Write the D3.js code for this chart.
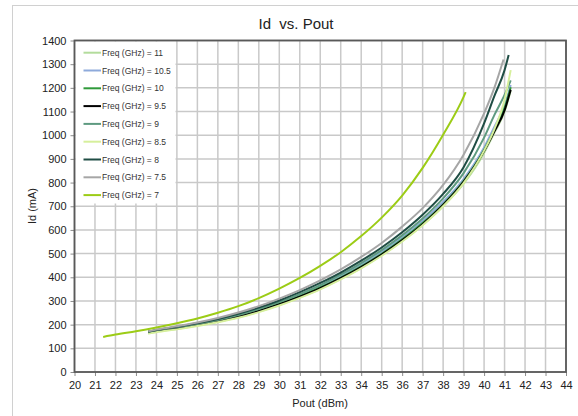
<!DOCTYPE html>
<html><head><meta charset="utf-8">
<script src="https://cdn.jsdelivr.net/npm/d3@7"></script>
<style>
html,body{margin:0;padding:0;background:#fff;}
svg{display:block;font-family:"Liberation Sans",Arial,sans-serif;}
</style></head>
<body><svg id="c" width="578" height="416"></svg>
<script>
const title = "Id  vs. Pout";
const xLabel = "Pout (dBm)";
const yLabel = "Id (mA)";
const xTicks = d3.range(20, 45, 1);
const yTicks = d3.range(0, 1500, 100);
const seriesNames = ["Freq (GHz) = 11","Freq (GHz) = 10.5","Freq (GHz) = 10","Freq (GHz) = 9.5","Freq (GHz) = 9","Freq (GHz) = 8.5","Freq (GHz) = 8","Freq (GHz) = 7.5","Freq (GHz) = 7"];
const seriesColors = ["#b3dc9c","#8eaadb","#2f9a3a","#000000","#5e9a80","#d6ef9c","#1f4d44","#a6a6a6","#9ccc16"];
// Pout values (dBm) and Id values (mA) per series
const poutMain = [23.6,24,25,26,27,28,29,30,31,32,33,34,35,36,37,38,39,40,40.5,41,41.3];
const id11   = [164,170,182,196,212,231,255,283,315,351,393,440,493,553,621,700,795,925,1010,1100,1188];
const id10_5 = [168,174,188,202,219,239,263,292,325,362,405,453,507,568,638,718,815,948,1035,1125,1212];
const id10   = [168,173,186,200,216,236,260,288,320,357,399,446,499,560,629,708,806,938,1022,1115,1203];
const id9_5  = [170,174,186,199,215,234,258,286,318,354,396,443,496,556,624,705,803,933,1015,1105,1192];
const id9    = [170,176,189,203,220,241,266,295,329,367,411,460,515,577,648,733,840,990,1085,1170,1232];
const id8_5  = [162,168,180,194,210,229,253,281,313,349,391,438,491,551,620,700,798,935,1025,1150,1275];
const pout8  = [23.6,24,25,26,27,28,29,30,31,32,33,34,35,36,37,38,39,40,40.5,41,41.2];
const id8    = [170,177,191,206,224,246,272,302,337,376,420,470,526,590,664,752,865,1050,1165,1275,1339];
const pout7_5 = [23.6,24,25,26,27,28,29,30,31,32,33,34,35,36,37,38,39,40,40.5,40.95];
const id7_5  = [172,179,193,209,228,251,278,310,346,387,433,486,545,614,692,790,918,1092,1200,1320];
const pout7  = [21.4,22,23,24,25,26,27,28,29,30,31,32,33,34,35,36,37,38,39,39.1];
const id7    = [148,158,172,188,206,226,250,278,312,352,397,448,506,574,652,745,862,1002,1162,1182];

const seriesData = [
  [poutMain, id11],[poutMain, id10_5],[poutMain, id10],[poutMain, id9_5],
  [poutMain, id9],[poutMain, id8_5],[pout8, id8],[pout7_5, id7_5],[pout7, id7]
];

const svg = d3.select("#c");
const L = 74.5, R = 566, T = 40.5, B = 372;
const x = d3.scaleLinear().domain([20, 44]).range([L, R]);
const y = d3.scaleLinear().domain([0, 1400]).range([B, T]);

// outer frame
svg.append("line").attr("x1",12).attr("x2",578).attr("y1",5.5).attr("y2",5.5).attr("stroke","#d0d0d0").attr("stroke-width",1);
svg.append("line").attr("x1",12.5).attr("x2",12.5).attr("y1",5).attr("y2",416).attr("stroke","#d0d0d0").attr("stroke-width",1);

// gridlines
const g = svg.append("g");
g.selectAll(".vg").data(xTicks).join("line")
  .attr("x1",d=>x(d)).attr("x2",d=>x(d)).attr("y1",T).attr("y2",B)
  .attr("stroke","#c9c9c9").attr("stroke-width",1.5);
g.selectAll(".hg").data(yTicks).join("line")
  .attr("x1",L).attr("x2",R).attr("y1",d=>y(d)).attr("y2",d=>y(d))
  .attr("stroke","#c9c9c9").attr("stroke-width",1.5);

// axes
const xAxis = d3.axisBottom(x).tickValues(xTicks).tickSize(4).tickPadding(5).tickFormat(d3.format("d"));
const yAxis = d3.axisLeft(y).tickValues(yTicks).tickSize(4).tickPadding(4).tickFormat(d3.format("d"));
const gx = svg.append("g").attr("transform",`translate(0,${B})`).call(xAxis);
const gy = svg.append("g").attr("transform",`translate(${L},0)`).call(yAxis);
[gx,gy].forEach(a=>{
  a.select(".domain").remove();
  a.selectAll(".tick line").attr("stroke","#8c8c8c").attr("stroke-width",1);
  a.selectAll(".tick text").attr("fill","#222").style("font-size","11px").style("font-family","'Liberation Sans',Arial,sans-serif");
});

// legend background (covers grid)
const legX = 75.5, legY0 = 52.7, legDy = 17.8;
svg.append("rect").attr("x",L+1).attr("y",T+1).attr("width",100).attr("height",162).attr("fill","#fff");

// plot border
svg.append("rect").attr("x",L).attr("y",T).attr("width",R-L).attr("height",B-T)
  .attr("fill","none").attr("stroke","#595959").attr("stroke-width",1.8);

// series lines
const line = d3.line().x(d=>x(d[0])).y(d=>y(d[1])).curve(d3.curveMonotoneX);
seriesData.forEach((s,i)=>{
  const pts = s[0].map((p,j)=>[p, s[1][j]]);
  svg.append("path").datum(pts).attr("d",line).attr("fill","none")
    .attr("stroke",seriesColors[i]).attr("stroke-width",2);
});

// legend
const leg = svg.append("g");
seriesNames.forEach((n,i)=>{
  const yy = legY0 + i*legDy;
  leg.append("line").attr("x1",83.5).attr("x2",101).attr("y1",yy).attr("y2",yy)
    .attr("stroke",seriesColors[i]).attr("stroke-width",2);
  leg.append("text").attr("x",102).attr("y",yy+3).text(n)
    .attr("fill","#333").style("font-size","8.5px");
});

// titles
svg.append("text").attr("x",296).attr("y",28.5).attr("text-anchor","middle")
  .style("font-size","15px").style("white-space","pre").attr("fill","#222").text(title);
svg.append("text").attr("x",320).attr("y",407).attr("text-anchor","middle")
  .style("font-size","11px").attr("fill","#222").text(xLabel);
svg.append("text").attr("transform","translate(36,206) rotate(-90)").attr("text-anchor","middle")
  .style("font-size","11px").attr("fill","#222").text(yLabel);
</script></body></html>
